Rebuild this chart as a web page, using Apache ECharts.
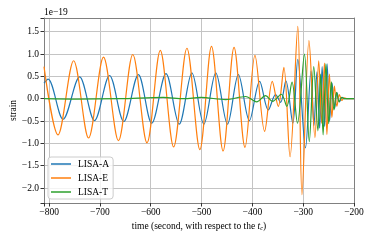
<!DOCTYPE html>
<html><head><meta charset="utf-8">
<script src="https://cdn.jsdelivr.net/npm/echarts@6/dist/echarts.min.js"></script>
<style>html,body{margin:0;padding:0;background:#fff}#c{width:374px;height:240px}</style>
</head><body><div id="c"></div>
<script>
const seriesNames = ['LISA-A', 'LISA-E', 'LISA-T'];
const seriesColors = ['#1f77b4', '#ff7f0e', '#2ca02c'];

// LISA-A: extrema (time s, strain 1e-19)
const timeA = [-810, -802, -772.5, -740, -710.6, -681, -653, -624.3, -598, -570, -543.9, -519, -495.5, -472, -449, -427.5, -405.9, -385.7, -368.6, -354.3, -344.5, -334.1, -320.4, -310.6, -295.5, -284.7, -278.8, -272.9, -267.6, -262.7, -257.8, -252.9, -248.0, -243.1, -238.2, -233.3, -228.4, -223.5, -218, -200];
const strainA = [0.35, 0.44, -0.46, 0.49, -0.49, 0.52, -0.51, 0.54, -0.55, 0.56, -0.57, 0.58, -0.57, 0.58, -0.57, 0.54, -0.49, 0.39, -0.25, 0.09, -0.08, 0.40, -0.55, 0.88, -1.10, 0.62, -0.60, 0.60, -0.66, 0.72, -0.62, 0.78, -0.50, 0.35, -0.22, 0.13, -0.07, 0.03, 0, 0];

// LISA-E
const timeE = [-810, -782.4, -751.7, -722.3, -692.9, -663.5, -635.3, -607.3, -581.2, -554.9, -528.8, -503.3, -480.4, -457.6, -436.0, -414.5, -394.9, -375.9, -360.8, -349.0, -338.0, -325.9, -310.6, -302.4, -288.6, -276.9, -269.4, -263.5, -258.2, -253.3, -248.4, -243.5, -238.6, -233.7, -228.8, -223.9, -219.0, -213, -200];
const strainE = [0.72, -0.81, 0.85, -0.88, 0.93, -0.94, 0.99, -0.99, 1.08, -1.08, 1.13, -1.14, 1.17, -1.17, 1.15, -1.09, 0.97, -0.73, 0.39, -0.17, 0.70, -1.30, 1.62, -2.15, 1.30, -0.87, 0.85, -0.55, 0.80, -0.80, 0.55, -0.42, 0.28, -0.17, 0.09, -0.04, 0.02, 0, 0];

// LISA-T
const timeT = [-810, -745, -660, -575, -535, -501.4, -452.4, -413.1, -391.6, -373.9, -360.2, -343.1, -332.2, -322.0, -311.2, -297.5, -288.0, -279.2, -271.0, -265.7, -260.8, -255.3, -249.8, -244.5, -239.4, -234.3, -229.2, -224.1, -218, -200];
const strainT = [0, -0.01, 0.0, 0.03, 0.0, 0.03, -0.02, 0.05, -0.07, 0.07, -0.06, 0.10, -0.17, 0.37, -0.55, 1.00, -0.96, 0.72, -0.72, 0.55, -0.81, 0.78, -0.56, 0.38, -0.25, 0.14, -0.07, 0.03, 0, 0];

const xTicks = [-800, -700, -600, -500, -400, -300, -200];
const yTicks = [-2.0, -1.5, -1.0, -0.5, 0.0, 0.5, 1.0, 1.5];

const F = 'Liberation Serif';
const fmt = (v, d) => (v < 0 ? '\u2212' : '') + Math.abs(v).toFixed(d);
const near = (arr, v) => arr.some(t => Math.abs(t - v) < 1e-6);

const times = [timeA, timeE, timeT];
const strains = [strainA, strainE, strainT];

const chart = echarts.init(document.getElementById('c'), null, {renderer: 'canvas'});
chart.setOption({
  animation: false,
  backgroundColor: '#fff',
  grid: {left: 43, right: 20, top: 18, bottom: 37, show: false},
  xAxis: [{
    type: 'value', min: -810, max: -200, splitNumber: 6,
    axisLine: {show: true, onZero: false, lineStyle: {color: '#808080', width: 1}},
    axisTick: {show: true, length: 3.5, lineStyle: {color: '#333'}},
    axisLabel: {margin: 4, color: '#000', fontFamily: F, fontSize: 9.5,
      formatter: v => near(xTicks, v) ? fmt(v, 0) : ''},
    splitLine: {show: true, showMinLine: false, showMaxLine: false, lineStyle: {color: '#c4c4c4', width: 1}},
    name: 'time (second, with respect to the {i|t}{s|c})',
    nameLocation: 'middle', nameGap: 13,
    nameTextStyle: {fontFamily: F, fontSize: 9.5, color: '#000',
      rich: {i: {fontFamily: F, fontStyle: 'italic', fontSize: 9.5},
             s: {fontFamily: F, fontStyle: 'italic', fontSize: 6.5, verticalAlign: 'bottom', lineHeight: 8}}}
  }, {
    type: 'value', position: 'top', min: -810, max: -200,
    axisLine: {show: true, onZero: false, lineStyle: {color: '#808080', width: 1}},
    axisTick: {show: false}, axisLabel: {show: false}, splitLine: {show: false}
  }],
  yAxis: [{
    type: 'value', min: -2.335, max: 1.807, splitNumber: 8,
    axisLine: {show: true, onZero: false, lineStyle: {color: '#808080', width: 1}},
    axisTick: {show: true, length: 3.5, lineStyle: {color: '#333'}},
    axisLabel: {margin: 5, color: '#000', fontFamily: F, fontSize: 9.5,
      formatter: v => near(yTicks, v) ? fmt(v, 1) : ''},
    splitLine: {show: true, showMinLine: false, showMaxLine: false, lineStyle: {color: '#c4c4c4', width: 1}},
    name: '1e\u221219', nameLocation: 'end', nameGap: 1,
    nameTextStyle: {fontFamily: F, fontSize: 9.5, color: '#000', align: 'left', verticalAlign: 'bottom'}
  }, {
    type: 'value', position: 'right', min: -2.335, max: 1.807,
    axisLine: {show: true, onZero: false, lineStyle: {color: '#808080', width: 1}},
    axisTick: {show: false}, axisLabel: {show: false}, splitLine: {show: false}
  }, {
    type: 'value', position: 'left', min: -2.335, max: 1.807, offset: 0,
    axisLine: {show: false}, axisTick: {show: false}, axisLabel: {show: false}, splitLine: {show: false},
    name: 'strain', nameLocation: 'middle', nameGap: 26,
    nameTextStyle: {fontFamily: F, fontSize: 9.5, color: '#000'}
  }],
  legend: {
    left: 48, top: 157, orient: 'vertical',
    icon: 'rect', itemWidth: 20, itemHeight: 1.5, itemGap: 4,
    padding: [2, 4, 2, 3],
    backgroundColor: 'rgba(255,255,255,0.8)', borderColor: '#cccccc', borderWidth: 1, borderRadius: 3,
    textStyle: {fontFamily: F, fontSize: 9.5, color: '#000', padding: [0, 0, 0, 2], lineHeight: 10},
    data: seriesNames
  },
  series: seriesNames.map((n, i) => ({
    name: n, type: 'line', xAxisIndex: 0, yAxisIndex: 0,
    data: times[i].map((t, k) => [t, strains[i][k]]),
    smooth: 0.33, symbol: 'none', clip: true,
    color: seriesColors[i],
    lineStyle: {width: 1.2, color: seriesColors[i]}
  }))
});
</script></body></html>
